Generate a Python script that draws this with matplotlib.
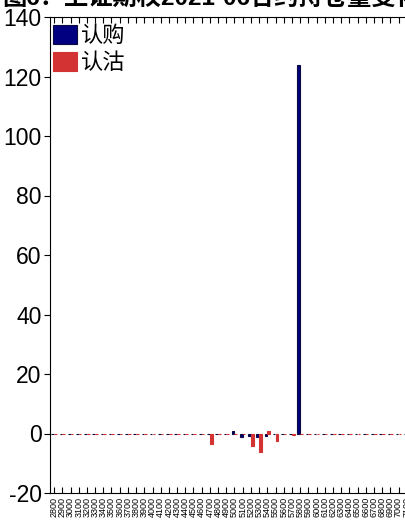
import matplotlib
matplotlib.use('Agg')
import matplotlib.pyplot as plt
import numpy as np

plt.rcParams['font.family'] = ['Liberation Sans', 'Noto Sans CJK SC']
plt.rcParams['axes.unicode_minus'] = False

title = '图6：上证期权2021-06合约持仓量变化'
strikes = ['2800', '2900', '3000', '3100', '3200', '3300', '3400', '3500', '3600',
           '3700', '3800', '3900', '4000', '4100', '4200', '4300', '4400', '4500',
           '4600', '4700', '4800', '4900', '5000', '5100', '5200', '5300', '5400',
           '5500', '5600', '5700', '5800', '5900', '6000', '6100', '6200', '6300',
           '6400', '6500', '6600', '6700', '6800', '6900', '7000', '7100', '7200']
# 持仓量变化
call_chg = [0, 0, 0, 0, 0, 0, 0, 0, 0, 0, 0, 0, 0, 0, 0, 0, 0, 0, 0, 0, 0, 0,
            0.9, -1.2, -1.0, -1.2, -0.8, 0, 0, 0, 124, 0, 0, 0, 0, 0, 0, 0, 0, 0, 0,
            0, 0, 0, 0]
put_chg = [0, 0, 0, 0, 0, 0, 0, 0, 0, 0, 0, 0, 0, 0, 0, 0, 0, 0, 0, -3.4, 0, 0,
           0, 0, -4.3, -6.3, 0.8, -2.4, 0, -0.6, 0, 0, 0, 0, 0, 0, 0, 0, 0, 0, 0,
           0, 0, 0, 0]

navy = '#000080'
red = '#D33333'

fig = plt.figure(figsize=(4.06, 5.27), dpi=100)
ax = fig.add_axes([50 / 406, 34 / 527, 369 / 406, 476 / 527])

x = np.arange(len(strikes))
w = 0.33
ax.bar(x - w / 2, call_chg, w, color=navy, edgecolor='#0a0a40', linewidth=0.8, label='认购')
ax.bar(x + w / 2, put_chg, w, color=red, edgecolor=red, linewidth=0.8, label='认沽')

ax.set_xlim(-0.5, len(strikes) - 0.5)
ax.set_ylim(-20, 140)
ax.set_yticks(range(-20, 141, 20))
ax.tick_params(axis='y', labelsize=16.5, direction='out', length=4, pad=2)
ax.set_xticks(x)
ax.set_xticklabels(strikes, rotation=90, fontsize=6.5)
ax.tick_params(axis='x', direction='in', length=4, top=True, pad=3)
ax.spines['right'].set_visible(False)

leg = ax.legend(loc='upper left', bbox_to_anchor=(53 / 406, 1 - 25 / 527),
                bbox_transform=fig.transFigure, fontsize=16, frameon=False,
                handlelength=1.1, handleheight=0.95, handletextpad=0.14,
                borderaxespad=0, borderpad=0, labelspacing=0.22)

fig.text(0.005, 1 - 10 / 527, title, fontsize=17.5, fontweight='bold', va='bottom', ha='left')

fig.savefig('out.png', dpi=100)
